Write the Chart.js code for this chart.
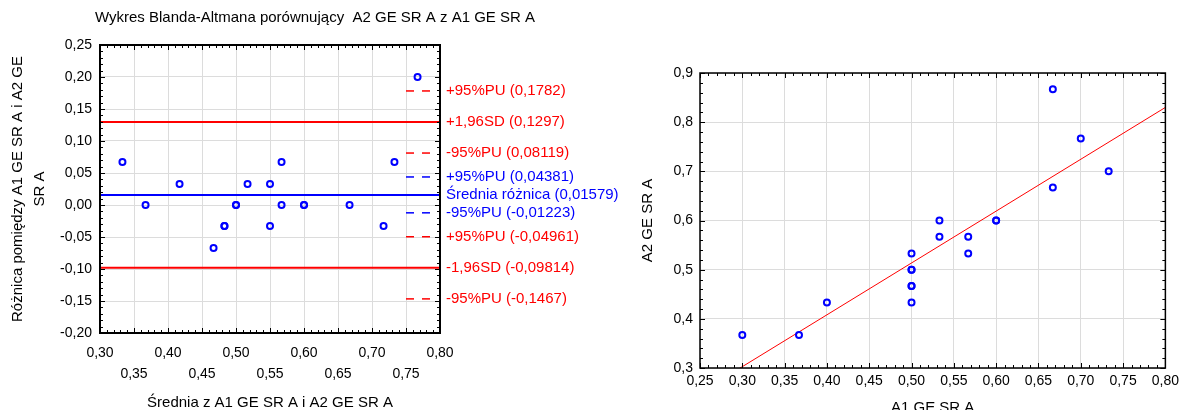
<!DOCTYPE html>
<html lang="pl">
<head>
<meta charset="utf-8">
<title>Wykres Blanda-Altmana</title>
<script src="https://cdn.jsdelivr.net/npm/chart.js@4.4.1/dist/chart.umd.min.js"></script>
<style>
  html, body { margin: 0; padding: 0; background: #fff; overflow: hidden; }
  #ba { position: absolute; left: 0; top: 0; }
  #sc { position: absolute; left: 590px; top: 0; }
</style>
</head>
<body>
<canvas id="ba" width="640" height="410"></canvas>
<canvas id="sc" width="594" height="430"></canvas>
<script>
// --- dane: wykres Blanda-Altmana ---
const tytul = "Wykres Blanda-Altmana porównujący  A2 GE SR A z A1 GE SR A";
const baMean = [0.333, 0.367, 0.417, 0.517, 0.500, 0.500, 0.483, 0.483, 0.467, 0.567,
                0.550, 0.567, 0.550, 0.600, 0.600, 0.767, 0.667, 0.733, 0.717];
const baDiff = [0.067, 0.000, 0.033, 0.033, 0.000, 0.000, -0.033, -0.033, -0.067, 0.067,
                0.033, 0.000, -0.033, 0.000, 0.000, 0.200, 0.000, 0.067, -0.033];

// linie granic zgodnosci i srednia roznica
const limitNames  = ["+1,96SD", "Średnia różnica", "-1,96SD"];
const limitValues = [0.1297, 0.01579, -0.09814];
const limitKind   = ["sd", "mean", "sd"];

// przedzialy ufnosci (95%PU)
const ciNames  = ["+95%PU", "-95%PU", "+95%PU", "-95%PU", "+95%PU", "-95%PU"];
const ciValues = [0.1782, 0.08119, 0.04381, -0.01223, -0.04961, -0.1467];
const ciKind   = ["sd", "sd", "mean", "mean", "sd", "sd"];

// --- dane: wykres rozrzutu ---
const a1 = [0.300, 0.367, 0.400, 0.500, 0.500, 0.500, 0.500, 0.500, 0.500, 0.533,
            0.533, 0.567, 0.567, 0.600, 0.600, 0.667, 0.667, 0.700, 0.733];
const a2 = [0.367, 0.367, 0.433, 0.533, 0.500, 0.500, 0.467, 0.467, 0.433, 0.600,
            0.567, 0.567, 0.533, 0.600, 0.600, 0.867, 0.667, 0.767, 0.700];
const regX = [0.25, 0.80];
const regY = [0.250, 0.830];

// --- wyglad ---
const RED = "#ff0000", BLUE = "#0000ff", GRID = "#dcdcdc";
const FONT = "'Liberation Sans', Arial, sans-serif";
const DASH_X = [0.75, 0.788];
const kolor = k => k === "mean" ? BLUE : RED;
const przecinek = v => String(v).replace(".", ",");
const fmt = (v, d) => (Math.abs(v) < 1e-9 ? 0 : v).toFixed(d).replace(".", ",");

Chart.defaults.font.family = FONT;
Chart.defaults.font.size = 14;
Chart.defaults.color = "#000";
Chart.defaults.animation = false;

// ramka z krotkimi kreskami do srodka
const ramka = {
  id: "ramka",
  afterDatasetsDraw(chart, args, o) {
    const { ctx, chartArea: a, scales } = chart;
    const sx = scales.x, sy = scales.y;
    ctx.save();
    ctx.strokeStyle = "#000";
    ctx.lineWidth = 1;
    ctx.beginPath();
    let n = Math.round((sx.max - sx.min) / o.xMinor);
    for (let i = 0; i <= n; i++) {
      const v = sx.min + i * o.xMinor;
      const r = (v - sx.min) / o.xMajor;
      const len = Math.abs(r - Math.round(r)) < 1e-6 ? 5 : 3;
      const p = Math.round(sx.getPixelForValue(v)) + 0.5;
      ctx.moveTo(p, a.top); ctx.lineTo(p, a.top + len);
      ctx.moveTo(p, a.bottom); ctx.lineTo(p, a.bottom - len);
    }
    n = Math.round((sy.max - sy.min) / o.yMinor);
    for (let i = 0; i <= n; i++) {
      const v = sy.min + i * o.yMinor;
      const r = (v - sy.min) / o.yMajor;
      const len = Math.abs(r - Math.round(r)) < 1e-6 ? 5 : 3;
      const p = Math.round(sy.getPixelForValue(v)) + 0.5;
      ctx.moveTo(a.left, p); ctx.lineTo(a.left + len, p);
      ctx.moveTo(a.right, p); ctx.lineTo(a.right - len, p);
    }
    ctx.stroke();
    ctx.lineWidth = o.frame;
    ctx.strokeRect(a.left, a.top, a.right - a.left, a.bottom - a.top);
    ctx.restore();
  }
};

// opisy linii po prawej stronie i tytul
const opisy = {
  id: "opisy",
  afterDraw(chart) {
    const { ctx, chartArea: a, scales } = chart;
    ctx.save();
    ctx.font = "15px " + FONT;
    ctx.textBaseline = "middle";
    ctx.textAlign = "left";
    const tx = a.right + 6;
    limitValues.forEach((v, i) => {
      ctx.fillStyle = kolor(limitKind[i]);
      ctx.fillText(limitNames[i] + " (" + przecinek(v) + ")", tx, scales.y.getPixelForValue(v));
    });
    ciValues.forEach((v, i) => {
      ctx.fillStyle = kolor(ciKind[i]);
      ctx.fillText(ciNames[i] + " (" + przecinek(v) + ")", tx, scales.y.getPixelForValue(v));
    });
    ctx.fillStyle = "#000";
    ctx.fillText(tytul, 95, 18);
    ctx.restore();
  }
};

const punkty = (xs, ys) => xs.map((x, i) => ({ x: x, y: ys[i] }));

new Chart(document.getElementById("ba"), {
  type: "scatter",
  data: {
    datasets: [
      { data: punkty(baMean, baDiff), borderColor: BLUE, backgroundColor: "rgba(0,0,0,0)",
        pointRadius: 3, pointBorderWidth: 2 },
      ...limitValues.map((v, i) => ({
        data: [{ x: 0.30, y: v }, { x: 0.80, y: v }], showLine: true, pointRadius: 0,
        borderColor: kolor(limitKind[i]), borderWidth: 2
      })),
      ...ciValues.map((v, i) => ({
        data: [{ x: DASH_X[0], y: v }, { x: DASH_X[1], y: v }], showLine: true, pointRadius: 0,
        borderColor: kolor(ciKind[i]), borderWidth: 1.5, borderDash: [8, 8]
      }))
    ]
  },
  options: {
    responsive: false,
    devicePixelRatio: 1,
    layout: { padding: { left: 0, top: 45, right: 200, bottom: 0 } },
    plugins: { legend: { display: false }, tooltip: { enabled: false },
      ramka: { xMinor: 0.01, xMajor: 0.05, yMinor: 0.01, yMajor: 0.05, frame: 2 } },
    scales: {
      x: {
        min: 0.30, max: 0.80,
        grid: { color: GRID, drawTicks: false },
        border: { display: false },
        ticks: { stepSize: 0.05, autoSkip: false, maxRotation: 0, padding: 9,
          font: { size: 14, lineHeight: 1.55 },
          callback: (v, i) => i % 2 === 0 ? fmt(v, 2) : ["", fmt(v, 2)] },
        title: { display: true, text: "Średnia z A1 GE SR A i A2 GE SR A",
          font: { size: 15, lineHeight: 1.0 }, padding: { top: 0, bottom: 0 } },
        afterFit: s => { s.height = 77; }
      },
      y: {
        min: -0.20, max: 0.25,
        grid: { color: GRID, drawTicks: false },
        border: { display: false },
        ticks: { stepSize: 0.05, padding: 8, callback: v => fmt(v, 2) },
        title: { display: true, text: ["Różnica pomiędzy A1 GE SR A i A2 GE", "SR A"],
          font: { size: 15, lineHeight: 1.47 }, padding: { top: 7, bottom: 0 } },
        afterFit: s => { s.width = 100; }
      }
    }
  },
  plugins: [ramka, opisy]
});

new Chart(document.getElementById("sc"), {
  type: "scatter",
  data: {
    datasets: [
      { data: punkty(a1, a2), borderColor: BLUE, backgroundColor: "rgba(0,0,0,0)",
        pointRadius: 3, pointBorderWidth: 2 },
      { data: punkty(regX, regY), showLine: true, pointRadius: 0,
        borderColor: RED, borderWidth: 1 }
    ]
  },
  options: {
    responsive: false,
    devicePixelRatio: 1,
    layout: { padding: { left: 46, top: 73, right: 15, bottom: 0 } },
    plugins: { legend: { display: false }, tooltip: { enabled: false },
      ramka: { xMinor: 0.01, xMajor: 0.05, yMinor: 0.02, yMajor: 0.1, frame: 1.5 } },
    scales: {
      x: {
        min: 0.25, max: 0.80,
        grid: { color: GRID, drawTicks: false },
        border: { display: false },
        ticks: { stepSize: 0.05, autoSkip: false, maxRotation: 0, padding: 5,
          callback: v => fmt(v, 2) },
        title: { display: true, text: "A1 GE SR A",
          font: { size: 15, lineHeight: 1.0 }, padding: { top: 0, bottom: 15 } },
        afterFit: s => { s.height = 62; }
      },
      y: {
        min: 0.3, max: 0.9,
        grid: { color: GRID, drawTicks: false },
        border: { display: false },
        ticks: { stepSize: 0.1, padding: 7, callback: v => fmt(v, 1) },
        title: { display: true, text: "A2 GE SR A",
          font: { size: 15, lineHeight: 1.0 }, padding: { top: 4, bottom: 0 } },
        afterFit: s => { s.width = 64; }
      }
    }
  },
  plugins: [ramka]
});
</script>
</body>
</html>
